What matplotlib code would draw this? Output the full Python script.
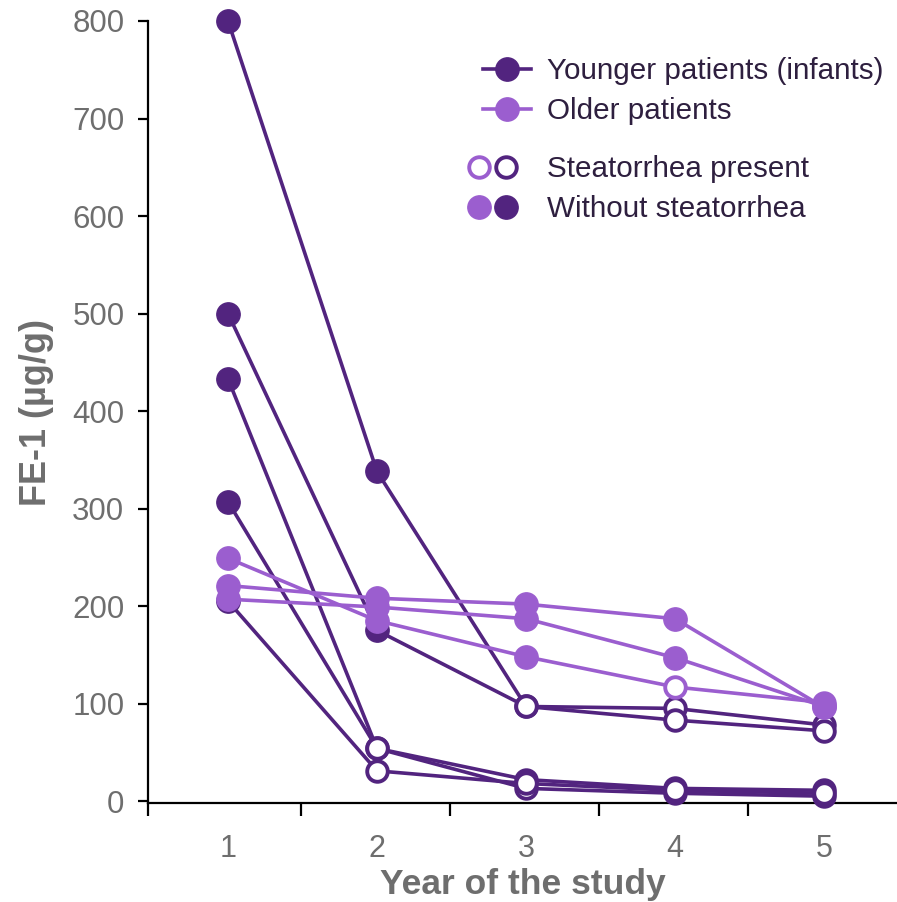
import numpy as np
import matplotlib
matplotlib.use("Agg")
import matplotlib.pyplot as plt
from matplotlib.lines import Line2D
from matplotlib.legend_handler import HandlerTuple

plt.rcParams['font.family'] = ['Liberation Sans', 'DejaVu Sans']

years = [1, 2, 3, 4, 5]

# younger patients (infants), one list per patient
young_vals = [
    [800, 338, 97, 95, 78],
    [500, 175, 97, 83, 72],
    [433, 54, 22, 13, 11],
    [307, 54, 13, 8, 5],
    [205, 31, 18, 11, 8],
]
# 1 = steatorrhea present (open marker)
young_steat = [
    [0, 0, 1, 1, 1],
    [0, 0, 1, 1, 1],
    [0, 1, 1, 1, 1],
    [0, 1, 1, 1, 1],
    [0, 1, 1, 1, 1],
]

# older patients
old_vals = [
    [249, 185, 148, 117, 101],
    [221, 208, 202, 187, 96],
    [207, 199, 187, 147, 97],
]
old_steat = [
    [0, 0, 0, 1, 1],
    [0, 0, 0, 0, 0],
    [0, 0, 0, 0, 0],
]

yticks = [0, 100, 200, 300, 400, 500, 600, 700, 800]

dark = '#52247f'
light = '#9b5ecf'
gray = '#6e6e6e'
txt = '#2e1f3f'

LW = 2.6
MS = 16.8
MS_OPEN = 14.8
MEW_OPEN = 2.8

fig = plt.figure(figsize=(8.97, 9.02), dpi=100)
ax = fig.add_axes([148 / 897, 99 / 902, 749 / 897, 782 / 902])


def draw(vals, steat, color, z):
    x = np.array(years)
    for v, s in zip(vals, steat):
        v = np.array(v)
        s = np.array(s, dtype=bool)
        ax.plot(x, v, '-', color=color, lw=LW, zorder=z, clip_on=False)
        ax.plot(x[~s], v[~s], 'o', ls='none', ms=MS, mfc=color, mec=color,
                mew=1.0, zorder=z + 0.5, clip_on=False)
        ax.plot(x[s], v[s], 'o', ls='none', ms=MS_OPEN, mfc='white', mec=color,
                mew=MEW_OPEN, zorder=z + 0.5, clip_on=False)
        z += 1
    return z


z = draw(young_vals, young_steat, dark, 2)
draw(old_vals, old_steat, light, z + 1)

ax.set_xlim(0.463, 5.49)
ax.set_ylim(-2, 800)
ax.spines['top'].set_visible(False)
ax.spines['right'].set_visible(False)
for sp in ('left', 'bottom'):
    ax.spines[sp].set_linewidth(1.6)
    ax.spines[sp].set_color('black')

ax.set_xticks([0.463, 1.49, 2.49, 3.49, 4.49])
ax.set_xticklabels([])
ax.tick_params(axis='x', which='major', length=9, width=1.6, direction='out')
ax.set_xticks(years, minor=True)
ax.set_xticklabels([str(y) for y in years], minor=True)
ax.tick_params(axis='x', which='minor', length=0, pad=22, labelsize=22,
               labelcolor=gray)

ax.set_yticks(yticks)
ax.set_yticklabels([str(t) for t in yticks])
ax.tick_params(axis='y', length=7, width=1.6, pad=10, labelsize=22.5,
               labelcolor=gray)

ax.set_xlabel('Year of the study', fontsize=25.5, fontweight='bold', color=gray,
              labelpad=3)
ax.set_ylabel('FE-1 (µg/g)', fontsize=26, fontweight='bold', color=gray,
              labelpad=13)

# legends
h1 = [Line2D([], [], color=dark, lw=LW, marker='o', ms=MS, mfc=dark, mec=dark),
      Line2D([], [], color=light, lw=LW, marker='o', ms=MS, mfc=light, mec=light)]
leg1 = ax.legend(h1, ['Younger patients (infants)', 'Older patients'],
                 loc='upper left', bbox_to_anchor=(483 / 897, 1 - 57 / 902),
                 bbox_transform=fig.transFigure, frameon=False, fontsize=21.3,
                 handlelength=1.61, handletextpad=0.55, labelspacing=0.42,
                 borderpad=0, borderaxespad=0, labelcolor=txt)
ax.add_artist(leg1)

op_l = Line2D([], [], ls='none', marker='o', ms=MS_OPEN, mfc='white', mec=light, mew=MEW_OPEN)
op_d = Line2D([], [], ls='none', marker='o', ms=MS_OPEN, mfc='white', mec=dark, mew=MEW_OPEN)
fi_l = Line2D([], [], ls='none', marker='o', ms=MS, mfc=light, mec=light)
fi_d = Line2D([], [], ls='none', marker='o', ms=MS, mfc=dark, mec=dark)
leg2 = ax.legend([(op_l, op_d), (fi_l, fi_d)],
                 ['Steatorrhea present', 'Without steatorrhea'],
                 handler_map={tuple: HandlerTuple(ndivide=None, pad=0)},
                 loc='upper left', bbox_to_anchor=(466 / 897, 1 - 155 / 902),
                 bbox_transform=fig.transFigure, frameon=False, fontsize=21.3,
                 handlelength=1.82, handletextpad=0.92, labelspacing=0.42,
                 borderpad=0, borderaxespad=0, labelcolor=txt)

fig.savefig('out.png', dpi=100)
